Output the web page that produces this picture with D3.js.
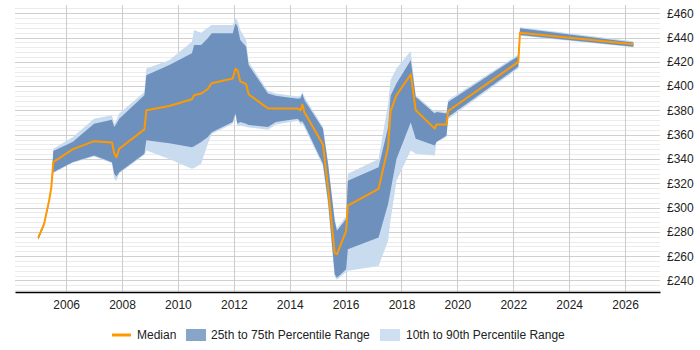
<!DOCTYPE html>
<html>
<head>
<meta charset="utf-8">
<script src="https://cdn.jsdelivr.net/npm/d3@7"></script>
<style>
  body { margin: 0; background: #fff; }
  text { font-family: "Liberation Sans", Arial, sans-serif; }
</style>
</head>
<body>
<div id="chart"></div>
<script>
// Data (decimal years, £ per day)
const years = [2005.00, 2005.21, 2005.39, 2005.47, 2005.54, 2006.23, 2007.00, 2007.64, 2007.72, 2007.80,
  2007.90, 2008.80, 2008.87, 2009.69, 2010.50, 2010.58, 2010.83, 2011.06, 2011.21, 2011.96,
  2012.06, 2012.13, 2012.23, 2012.44, 2012.53, 2013.22, 2013.50, 2014.29, 2014.39, 2014.45,
  2014.53, 2015.19, 2015.37, 2015.61, 2015.69, 2016.02, 2016.08, 2017.18, 2017.52, 2017.61,
  2017.82, 2018.33, 2018.51, 2019.19, 2019.25, 2019.61, 2019.67, 2022.18, 2022.24, 2026.30];

const median = [275, 286.4, 305.7, 316.7, 337.4, 347.9, 354.7, 353.6, 344.8, 341.5,
  348.4, 364.4, 380.1, 383.6, 389.2, 392.5, 393.9, 397.4, 402.4, 406.3,
  414.2, 413.1, 404, 401.6, 393.3, 381.7, 381.6, 381.5, 380.1, 384.8,
  378.2, 352, 316.7, 262.5, 261.7, 280.9, 301.6, 315.4, 349.8, 379.5,
  392.5, 409.6, 380.1, 365, 368.5, 368.5, 379.5, 420, 444, 434.4];

const p25 = [273.5, 285, 304, 315, 329, 337.4, 342.9, 337.4, 327.8, 325.5,
  329, 344.3, 355.5, 353, 349.7, 350.5, 354, 358, 362.1, 370.4,
  377.4, 369.1, 370.4, 369, 368, 366.3, 370.4, 373.2, 370.4, 371,
  368, 336, 305.7, 245.1, 242.3, 249.3, 265.8, 275.4, 302.9, 314,
  340, 370, 356.7, 351.2, 353.9, 359.4, 374.5, 415.9, 442, 432.5];

const p75 = [276.5, 288, 307, 318.5, 346.5, 353.9, 369.1, 372.4, 366.3, 369,
  373.2, 392.5, 409, 417.3, 427, 433.8, 433.8, 439.3, 443.5, 443.5,
  451.7, 449, 438, 432.4, 417.3, 394, 392, 389.7, 390, 393.9,
  388.3, 365, 336, 289, 281, 290.6, 322.2, 333.2, 366, 392,
  402.1, 421.4, 391.1, 377.4, 378.7, 377.4, 387, 424.7, 447.6, 436];

const p10 = [273, 284.5, 303.5, 314.5, 328.5, 337, 342, 336.5, 323.6, 322,
  328, 343.5, 347, 340, 331.9, 332.5, 336, 352, 360.5, 369,
  376, 367, 367.5, 366.5, 366, 364, 368.5, 371.5, 368.5, 369,
  366, 334, 302, 243, 240.5, 247, 247.9, 252, 272.6, 290,
  322, 347, 344.3, 342.9, 354, 358, 373, 414.5, 441.5, 432];

const p90 = [277, 288.5, 307.5, 319, 348.4, 358, 373.2, 376, 369.1, 372,
  377.4, 395.2, 414.5, 421.4, 436.5, 446.2, 444, 448, 450.3, 450.3,
  455.9, 454, 446.2, 438, 420, 396, 394, 391.5, 392, 395.2,
  391.1, 366.3, 338, 291, 283, 293, 327.8, 340, 385, 405,
  414.5, 429, 392.5, 379, 380, 379, 388.5, 426, 448.5, 437];

const xTicks = [2006, 2008, 2010, 2012, 2014, 2016, 2018, 2020, 2022, 2024, 2026];
const yTicks = [240, 260, 280, 300, 320, 340, 360, 380, 400, 420, 440, 460];
const legendLabels = ["Median", "25th to 75th Percentile Range", "10th to 90th Percentile Range"];

// Dimensions
const width = 700, height = 350;
const plot = { left: 15, right: 660, top: 5, bottom: 292 };

const svg = d3.select("#chart").append("svg")
  .attr("width", width)
  .attr("height", height);

// Scales
const xScale = d3.scaleLinear().domain([2004.17, 2027.25]).range([plot.left, plot.right]);
const yScale = d3.scaleLinear().domain([230.5, 466.8]).range([plot.bottom, plot.top]);

const rows = years.map((t, i) => ({
  t, med: median[i], p25: p25[i], p75: p75[i], p10: p10[i], p90: p90[i]
}));

// Grid
const grid = svg.append("g");
grid.selectAll("line.minor")
  .data(d3.range(232, 466, 4).filter((v) => v % 20 !== 0))
  .join("line")
  .attr("x1", plot.left).attr("x2", plot.right)
  .attr("y1", (d) => Math.round(yScale(d)) + 0.5)
  .attr("y2", (d) => Math.round(yScale(d)) + 0.5)
  .attr("stroke", "#ebebeb");
grid.selectAll("line.major")
  .data(yTicks)
  .join("line")
  .attr("x1", plot.left).attr("x2", plot.right)
  .attr("y1", (d) => Math.round(yScale(d)) + 0.5)
  .attr("y2", (d) => Math.round(yScale(d)) + 0.5)
  .attr("stroke", "#d0d0d0");
grid.selectAll("line.vert")
  .data(xTicks)
  .join("line")
  .attr("x1", (d) => Math.round(xScale(d)) + 0.5)
  .attr("x2", (d) => Math.round(xScale(d)) + 0.5)
  .attr("y1", plot.top).attr("y2", plot.bottom)
  .attr("stroke", "#cccccc");

// Bands
const band = (lo, hi) => d3.area()
  .x((d) => xScale(d.t))
  .y0((d) => yScale(d[lo]))
  .y1((d) => yScale(d[hi]));

svg.append("path").datum(rows)
  .attr("d", band("p10", "p90"))
  .attr("fill", "#c9dbee");

svg.append("path").datum(rows)
  .attr("d", band("p25", "p75"))
  .attr("fill", "#6d91bc");

svg.append("path").datum(rows)
  .attr("d", d3.line().x((d) => xScale(d.t)).y((d) => yScale(d.med)))
  .attr("fill", "none")
  .attr("stroke", "#ff9900")
  .attr("stroke-width", 2)
  .attr("stroke-linejoin", "round");

// Axes
const xAxis = d3.axisBottom(xScale).tickValues(xTicks).tickFormat(d3.format("d")).tickSize(0).tickPadding(8);
const xAxisGroup = svg.append("g")
  .attr("transform", `translate(0, ${plot.bottom})`)
  .call(xAxis);
xAxisGroup.select(".domain").attr("stroke", "#000").attr("stroke-width", 1.5);
xAxisGroup.selectAll("text").attr("font-size", 12).attr("fill", "#222")
  .attr("font-family", "Liberation Sans, Arial, sans-serif");

const yAxis = d3.axisRight(yScale).tickValues(yTicks).tickFormat((d) => "£" + d).tickSize(0).tickPadding(8);
const yAxisGroup = svg.append("g")
  .attr("transform", `translate(${plot.right - 1}, 0)`)
  .call(yAxis);
yAxisGroup.select(".domain").remove();
yAxisGroup.selectAll("text").attr("font-size", 12).attr("fill", "#222")
  .attr("font-family", "Liberation Sans, Arial, sans-serif");

// Legend
const legend = svg.append("g").attr("transform", "translate(0, 335)");
legend.append("line")
  .attr("x1", 112).attr("x2", 131).attr("y1", 0).attr("y2", 0)
  .attr("stroke", "#ff9900").attr("stroke-width", 3);
legend.append("text").attr("x", 137).attr("y", 4).attr("font-size", 12).attr("fill", "#222").text(legendLabels[0]);
legend.append("rect").attr("x", 186).attr("y", -6).attr("width", 20).attr("height", 12).attr("fill", "#87a5c8");
legend.append("text").attr("x", 211).attr("y", 4).attr("font-size", 12).attr("fill", "#222").text(legendLabels[1]);
legend.append("rect").attr("x", 380).attr("y", -6).attr("width", 20).attr("height", 12).attr("fill", "#cddff0");
legend.append("text").attr("x", 406).attr("y", 4).attr("font-size", 12).attr("fill", "#222").text(legendLabels[2]);
</script>
</body>
</html>
